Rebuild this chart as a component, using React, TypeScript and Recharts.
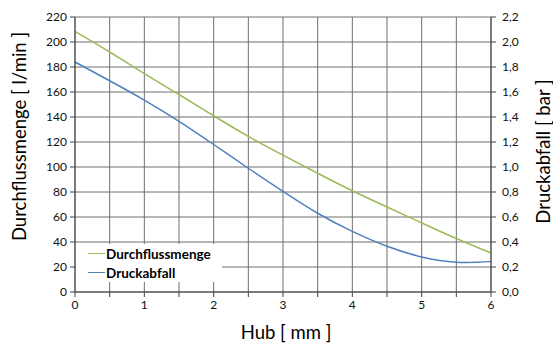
import { ComposedChart, Line, XAxis, YAxis, CartesianGrid, Label } from "recharts";

const hub = [0, 0.5, 1, 1.5, 2, 2.5, 3, 3.5, 4, 4.5, 5, 5.5, 6];
const durchfluss = [208.5, 192, 174.7, 158, 141, 124.5, 109.5, 95, 81, 68, 55.3, 42.8, 31.2];
const druckabfall = [1.84, 1.69, 1.535, 1.365, 1.18, 0.99, 0.805, 0.63, 0.485, 0.366, 0.28, 0.238, 0.243];

const xTicks = [0, 0.5, 1, 1.5, 2, 2.5, 3, 3.5, 4, 4.5, 5, 5.5, 6];
const leftTicks = [0, 20, 40, 60, 80, 100, 120, 140, 160, 180, 200, 220];
const rightTicks = [0, 0.2, 0.4, 0.6, 0.8, 1.0, 1.2, 1.4, 1.6, 1.8, 2.0, 2.2];

const GREEN = "#9BBB59";
const BLUE = "#4F81BD";
const FONT = "Lato, sans-serif";

const data = hub.map((h, i) => ({ hub: h, flow: durchfluss[i], drop: druckabfall[i] }));

const series = [
  { name: "Durchflussmenge", color: GREEN },
  { name: "Druckabfall", color: BLUE },
];

const titleStyle = { fontSize: 18.5, fontFamily: FONT, fill: "#000", textAnchor: "middle" as const };

// legend sits inside the plot, bottom-left, on a white box
const LegendBox = () => (
  <div
    style={{
      position: "absolute",
      left: 76,
      top: 244,
      width: 146,
      height: 38,
      background: "#fff",
      fontFamily: FONT,
      fontSize: 13.5,
      fontWeight: 700,
      color: "#000",
    }}
  >
    {series.map((e) => (
      <div key={e.name} style={{ display: "flex", alignItems: "center", height: 19 }}>
        <span style={{ display: "inline-block", width: 17, height: 0, borderTop: `1.5px solid ${e.color}`, marginLeft: 12, marginRight: 1 }} />
        {e.name}
      </div>
    ))}
  </div>
);

export default function App() {
  const tick = { fill: "#111", fontSize: 12, fontFamily: FONT };
  return (
    <div style={{ position: "absolute", left: 0, top: 0, width: 553, height: 345, background: "#fff" }}>
      <ComposedChart width={553} height={345} data={data} margin={{ top: 17, right: 22, left: 30, bottom: 23 }}>
        <CartesianGrid yAxisId="left" stroke="#6f6f6f" strokeWidth={1} />
        <XAxis
          dataKey="hub"
          type="number"
          domain={[0, 6]}
          ticks={xTicks}
          interval={0}
          tickFormatter={(v: number) => (Number.isInteger(v) ? String(v) : "")}
          tick={tick}
          tickSize={5}
          tickMargin={3}
          height={30}
          stroke="#404040"
        >
          <Label value="Hub [ mm ]" position="center" dx={3} dy={25} style={titleStyle} />
        </XAxis>
        <YAxis
          yAxisId="left"
          domain={[0, 220]}
          ticks={leftTicks}
          interval={0}
          tick={tick}
          tickSize={5}
          tickMargin={3}
          width={45}
          stroke="#404040"
        >
          <Label value="Durchflussmenge [ l/min ]" angle={-90} position="center" dx={-33} dy={-18} style={titleStyle} />
        </YAxis>
        <YAxis
          yAxisId="right"
          orientation="right"
          domain={[0, 2.2]}
          ticks={rightTicks}
          interval={0}
          tickFormatter={(v: number) => v.toFixed(1).replace(".", ",")}
          tick={tick}
          tickSize={5}
          tickMargin={6}
          width={40}
          stroke="#404040"
        >
          <Label value="Druckabfall [ bar ]" angle={-90} position="center" dx={32} dy={-3} style={titleStyle} />
        </YAxis>
        <Line yAxisId="left" type="natural" dataKey="flow" name="Durchflussmenge" stroke={GREEN} strokeWidth={1.5} dot={false} isAnimationActive={false} />
        <Line yAxisId="right" type="natural" dataKey="drop" name="Druckabfall" stroke={BLUE} strokeWidth={1.5} dot={false} isAnimationActive={false} />
      </ComposedChart>
      <LegendBox />
    </div>
  );
}
